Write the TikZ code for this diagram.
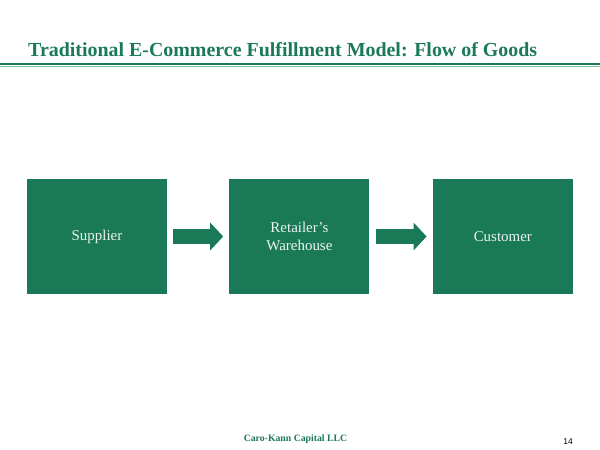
\documentclass[tikz,border=0pt]{standalone}
\usepackage{fontspec}
\setmainfont{Liberation Serif}
\newfontfamily\pagenumfont{Liberation Sans}
\usetikzlibrary{positioning, arrows.meta}
\definecolor{ckgreen}{RGB}{26,122,87}
\definecolor{ckpale}{RGB}{130,195,160}
\definecolor{cktext}{RGB}{236,244,240}

\begin{document}
\begin{tikzpicture}[x=1bp, y=-1bp, node distance=62bp,
        stage/.style={fill=ckgreen, text=cktext, minimum width=140bp, minimum height=115bp, inner sep=0pt, align=center, font=\fontsize{15}{18}\selectfont},
        flow/.style={ckgreen, line width=15bp, -{Triangle[length=13bp, width=27bp]}, shorten <=6bp, shorten >=6bp}]
        \useasboundingbox (0,0) rectangle (600,450);

        % title and rule
        \node (title) [anchor=base west, text=ckgreen, inner sep=0pt, font=\fontsize{20}{24}\bfseries\selectfont] at (28,57) {Traditional E-Commerce Fulfillment Model: Flow of Goods};
        \coordinate (ruleL) at (0,64);
        \coordinate (ruleR) at (600,64);
        \coordinate (paleL) at (0,66.5);
        \coordinate (paleR) at (600,66.5);
        \draw[ckgreen, line width=2bp] (ruleL) -- (ruleR);
        \draw[ckpale, line width=1.5bp] (paleL) -- (paleR);

        % flow of goods
        \node (sup) [stage] at (97,236.5) {Supplier};
        \node (ware) [stage, right=of sup] {Retailer’s\\Warehouse};
        \node (cust) [stage, right=63bp of ware] {Customer};

        \draw[flow] (sup) -- (ware);
        \draw[flow] (ware) -- (cust);

        % footer
        \node (firm) [text=ckgreen, font=\fontsize{9.8}{12}\bfseries\selectfont] at (295.5,439.5) {Caro-Kann Capital LLC};
        \node (page) [font=\pagenumfont\fontsize{8.5}{10}\selectfont] at (568,442) {14};
    \end{tikzpicture}
\end{document}
